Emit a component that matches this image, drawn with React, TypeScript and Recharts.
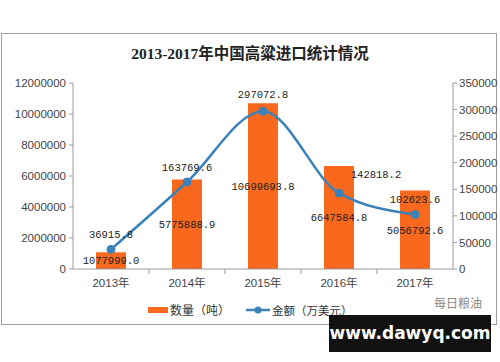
import React from 'react';
import { ComposedChart, Bar, Line, XAxis, YAxis, LabelList } from 'recharts';

const years = ['2013年', '2014年', '2015年', '2016年', '2017年'];
const quantity = [1077999.0, 5775888.9, 10699693.8, 6647584.8, 5056792.6];
const amount = [36915.8, 163769.6, 297072.8, 142818.2, 102623.6];
const leftTicks = [0, 2000000, 4000000, 6000000, 8000000, 10000000, 12000000];
const rightTicks = [0, 50000, 100000, 150000, 200000, 250000, 300000, 350000];

const data = years.map((y, i) => ({ year: y, qty: quantity[i], amt: amount[i] }));

const ORANGE = '#F8681D';
const BLUE = '#3A82B8';
const LABEL_FONT = '"Liberation Mono", "DejaVu Sans Mono", monospace';
const AXIS_FONT = '"Liberation Sans", Arial, "Noto Sans CJK SC", sans-serif';

const XTick = (props: any) => {
  const { x, y, payload, index } = props;
  return (
    <g>
      {index < years.length - 1 && (
        <line x1={x + 38} x2={x + 38} y1={y - 10} y2={y - 5} stroke="#999" />
      )}
      <text x={x} y={y} dy="0.71em" textAnchor="middle" fontSize={11.5} fill="#444" fontFamily={AXIS_FONT}>
        {payload.value}
      </text>
    </g>
  );
};

const LineLabel = (props: any) => {
  const { x, y, value, index } = props;
  const dx = index === 3 ? 37 : 0;
  const dy = index === 3 ? -19 : index === 2 ? -17 : -15;
  return (
    <text x={x + dx} y={y + dy} dy="0.35em" textAnchor="middle" fontSize={10.5} fill="#222" fontFamily={LABEL_FONT}>
      {Number(value).toFixed(1)}
    </text>
  );
};

export default function App() {
  return (
    <div style={{ position: 'absolute', left: 0, top: 0, width: 500, height: 362, background: '#fff', overflow: 'hidden' }}>
      <div style={{ position: 'absolute', left: 1, top: 33, width: 496, height: 292, border: '1px solid #a0a0a0', boxSizing: 'border-box' }} />
      <div style={{ position: 'absolute', left: 0, top: 41, width: 500, textAlign: 'center', fontFamily: '"Liberation Serif", "Noto Sans CJK SC", serif', fontWeight: 'bold', fontSize: 15.5, color: '#222' }}>
        2013-2017年中国高粱进口统计情况
      </div>
      <div style={{ position: 'absolute', left: 0, top: 0 }}>
        <ComposedChart width={500} height={362} data={data} margin={{ top: 83, right: 0, bottom: 63, left: 0 }}>
          <XAxis dataKey="year" height={30} tickLine={false} tickSize={4} tickMargin={6} axisLine={{ stroke: '#999' }} tick={<XTick />} interval={0} />
          <YAxis yAxisId="left" width={73} domain={[0, 12000000]} ticks={leftTicks} tickSize={4} tickMargin={3}
            axisLine={{ stroke: '#999' }} tickLine={{ stroke: '#999' }}
            tick={{ fontSize: 11.5, fill: '#444', fontFamily: AXIS_FONT }} interval={0} />
          <YAxis yAxisId="right" orientation="right" width={47} domain={[0, 350000]} ticks={rightTicks} tickSize={4} tickMargin={2}
            axisLine={{ stroke: '#999' }} tickLine={{ stroke: '#999' }}
            tick={{ fontSize: 11.5, fill: '#444', fontFamily: AXIS_FONT, textAnchor: 'start' }} interval={0} />
          <Bar yAxisId="left" dataKey="qty" fill={ORANGE} barSize={30} isAnimationActive={false}>
            <LabelList dataKey="qty" position="center" formatter={(v: any) => Number(v).toFixed(1)}
              style={{ fontSize: 10.5, fill: '#222', fontFamily: LABEL_FONT }} />
          </Bar>
          <Line yAxisId="right" dataKey="amt" type="monotone" stroke={BLUE} strokeWidth={2.5}
            dot={{ r: 4, fill: BLUE, stroke: BLUE, strokeWidth: 1 }} isAnimationActive={false}>
            <LabelList dataKey="amt" content={<LineLabel />} />
          </Line>
        </ComposedChart>
      </div>
      {/* legend */}
      <div style={{ position: 'absolute', left: 148, top: 307, width: 20, height: 6, background: ORANGE }} />
      <div style={{ position: 'absolute', left: 170, top: 302, fontSize: 12, lineHeight: '16px', color: '#333', fontFamily: '"Noto Sans CJK SC", sans-serif' }}>数量（吨）</div>
      <svg style={{ position: 'absolute', left: 245, top: 304 }} width={26} height={12}>
        <line x1={1} x2={25} y1={6} y2={6} stroke={BLUE} strokeWidth={2.5} />
        <circle cx={13} cy={6} r={3.5} fill={BLUE} />
      </svg>
      <div style={{ position: 'absolute', left: 272, top: 302, fontSize: 11.5, lineHeight: '16px', color: '#333', fontFamily: '"Noto Sans CJK SC", sans-serif' }}>金额（万美元）</div>
      {/* source marks */}
      <div style={{ position: 'absolute', left: 434, top: 295, fontSize: 12, lineHeight: '16px', color: '#8a8a8a', fontFamily: '"Noto Sans CJK SC", sans-serif' }}>每日粮油</div>
      <div style={{ position: 'absolute', left: 329, top: 315, width: 162, height: 37, background: '#121212', color: '#fff', fontFamily: '"DejaVu Sans", sans-serif', fontWeight: 'bold', fontSize: 17, lineHeight: '37px', textAlign: 'center' }}>
        www.dawyq.com
      </div>
    </div>
  );
}
